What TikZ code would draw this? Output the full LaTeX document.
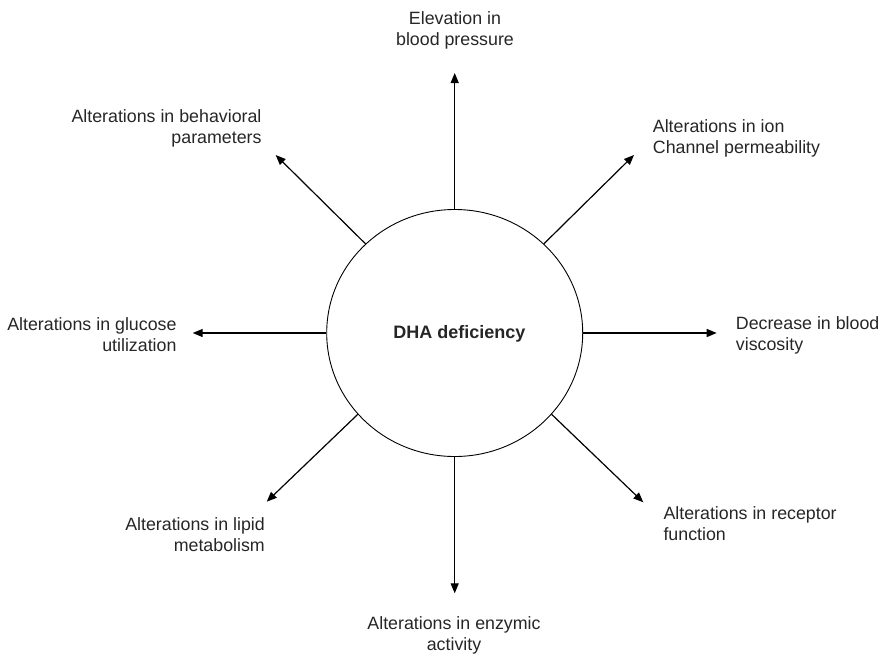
\documentclass[tikz,border=0pt]{standalone}
\usepackage{fontspec}
\setmainfont{Liberation Sans}
\usetikzlibrary{shapes.geometric,arrows.meta}
\begin{document}
\begin{tikzpicture}[x=1pt,y=-1pt,
  hub/.style={draw=black,line width=0.9pt,ellipse,minimum width=256pt,minimum height=247pt,inner sep=0pt},
  effect/.style={font=\fontsize{17.8}{21}\selectfont,text=black!85,inner sep=0pt},
  link/.style={line width=1.2pt,-{Triangle[length=10pt,width=8pt]}}]
  \useasboundingbox (0,0) rectangle (883,654);

  % central ellipse and its label
  \node[hub] (dha) at (454.7,333) {};
  \node[effect,font=\fontsize{18}{21}\selectfont\bfseries,anchor=base] (dhalabel) at (459.5,338.3) {DHA deficiency};

  % arrow ends
  \coordinate (tN)  at (454.7,73);
  \coordinate (tNE) at (634,155);
  \coordinate (tE)  at (716.7,333);
  \coordinate (tSE) at (643.3,502.3);
  \coordinate (tS)  at (454.7,593.3);
  \coordinate (tSW) at (266.7,501.7);
  \coordinate (tW)  at (192.7,333);
  \coordinate (tNW) at (275.7,155);

  % arrows radiating out of the ellipse
  \draw[link] (dha.north) -- (tN);
  \draw[link] (dha.45)    -- (tNE);
  \draw[link] (dha.east)  -- (tE);
  \draw[link] (dha.320)   -- (tSE);
  \draw[link] (dha.south) -- (tS);
  \draw[link] (dha.220)   -- (tSW);
  \draw[link] (dha.west)  -- (tW);
  \draw[link] (dha.135)   -- (tNW);

  % effect labels (anchored at the baseline of their last line)
  \node[effect,align=center,anchor=base] (lN) at (455,45.3) {Elevation in\\blood pressure};
  \node[effect,align=left,anchor=base west] (lNE) at (652.7,153.3) {Alterations in ion\\Channel permeability};
  \node[effect,align=left,anchor=base west] (lE) at (735.7,350) {Decrease in blood\\viscosity};
  \node[effect,align=left,anchor=base west] (lSE) at (663.3,540) {Alterations in receptor\\function};
  \node[effect,align=center,anchor=base] (lS) at (454,650) {Alterations in enzymic\\activity};
  \node[effect,align=right,anchor=base east] (lSW) at (265,551.7) {Alterations in lipid\\metabolism};
  \node[effect,align=right,anchor=base east] (lW) at (176.7,351.7) {Alterations in glucose\\utilization};
  \node[effect,align=right,anchor=base east] (lNW) at (261.7,143.3) {Alterations in behavioral\\parameters};
\end{tikzpicture}
\end{document}
